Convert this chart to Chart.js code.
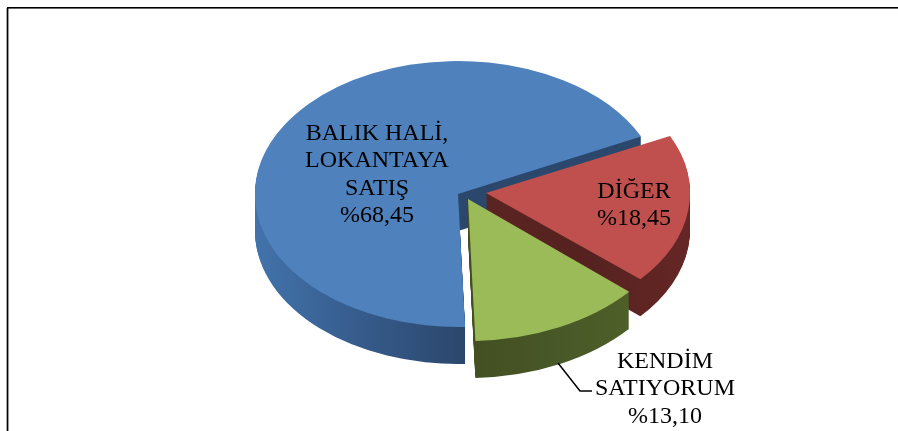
<!DOCTYPE html>
<html>
<head>
<meta charset="utf-8">
<script src="https://cdn.jsdelivr.net/npm/chart.js@4"></script>
<style>
html,body{margin:0;padding:0;background:#fff;overflow:hidden}
canvas{display:block}
</style>
</head>
<body>
<canvas id="c" width="898" height="431"></canvas>
<script>
const categories = ["BALIK HALİ, LOKANTAYA SATIŞ", "DİĞER", "KENDİM SATIYORUM"];
const values = [68.45, 18.45, 13.10];
const labelLines = [["BALIK HALİ,", "LOKANTAYA", "SATIŞ"], ["DİĞER"], ["KENDİM", "SATIYORUM"]];
const valueLabels = ["%68,45", "%18,45", "%13,10"];
const topColors = ["#4F81BD", "#C0504D", "#9BBB59"];
const sideStops = [
  ["#4273AB", "#365C8C", "#2B476C"],
  ["#5A2422", "#552220", "#652725"],
  ["#434F22", "#485727", "#4E5F29"]
];

// Per-slice projection of the circular pie onto the tilted, exploded view
const VIEWS = [
  {cx: 458, cy: 194, rx: 203, ry: 133, depth: 37, gx0: 255, gx1: 463},
  {cx: 486, cy: 193, rx: 204, ry: 132, depth: 37, gx0: 486, gx1: 690},
  {cx: 468, cy: 199, rx: 213, ry: 142, depth: 37, gx0: 468, gx1: 630}
];
const LABEL_POS = [
  {x: 377, y: 133.5},
  {x: 634, y: 191.5},
  {x: 665, y: 361.5}
];
const LINE_H = 27.5;

function toView(ctx, arc, v) {
  ctx.translate(v.cx, v.cy);
  ctx.scale(v.rx / arc.outerRadius, v.ry / arc.outerRadius);
  ctx.translate(-arc.x, -arc.y);
}

const pie3d = {
  id: "pie3d",
  beforeDatasetDraw(chart) {
    const ctx = chart.ctx;
    const {width, height} = chart;
    // frame
    ctx.save();
    ctx.fillStyle = "#000";
    ctx.fillRect(7, 7, width - 7, 1.6);
    ctx.fillRect(7, 7, 1.4, height - 7);
    ctx.fillStyle = "#aaa";
    ctx.fillRect(6, 8, 1, height - 8);
    ctx.restore();

    const arcs = chart.getDatasetMeta(0).data;
    // side walls first, in slice order
    arcs.forEach((arc, i) => {
      const v = VIEWS[i];
      const g = ctx.createLinearGradient(v.gx0, 0, v.gx1, 0);
      sideStops[i].forEach((c, k) => g.addColorStop(k / 2, c));
      for (let d = v.depth; d >= 1; d--) {
        ctx.save();
        ctx.save();
        ctx.translate(0, d);
        toView(ctx, arc, v);
        ctx.beginPath();
        ctx.moveTo(arc.x, arc.y);
        ctx.arc(arc.x, arc.y, arc.outerRadius, arc.startAngle, arc.endAngle);
        ctx.closePath();
        ctx.restore();
        ctx.fillStyle = g;
        ctx.fill();
        ctx.restore();
      }
    });
    // then the top faces, drawn by the library's arc elements
    arcs.forEach((arc, i) => {
      ctx.save();
      toView(ctx, arc, VIEWS[i]);
      arc.draw(ctx);
      ctx.restore();
    });
    return false;
  },
  afterDatasetsDraw(chart) {
    const ctx = chart.ctx;
    // leader line for the third slice
    ctx.save();
    ctx.strokeStyle = "#000";
    ctx.lineWidth = 1.5;
    ctx.beginPath();
    ctx.moveTo(558, 363);
    ctx.lineTo(580, 391);
    ctx.lineTo(592, 391);
    ctx.stroke();
    // labels
    ctx.fillStyle = "#000";
    ctx.font = '24px "Liberation Serif"';
    ctx.textAlign = "center";
    ctx.textBaseline = "middle";
    LABEL_POS.forEach((p, i) => {
      const lines = labelLines[i].concat([valueLabels[i]]);
      lines.forEach((t, k) => ctx.fillText(t, p.x, p.y + k * LINE_H));
    });
    ctx.restore();
  }
};

new Chart(document.getElementById("c"), {
  type: "pie",
  data: {
    labels: categories,
    datasets: [{
      data: values,
      backgroundColor: topColors,
      borderWidth: 0
    }]
  },
  options: {
    responsive: false,
    animation: false,
    rotation: 178,
    layout: {padding: 0},
    plugins: {legend: {display: false}, tooltip: {enabled: false}}
  },
  plugins: [pie3d]
});
</script>
</body>
</html>
